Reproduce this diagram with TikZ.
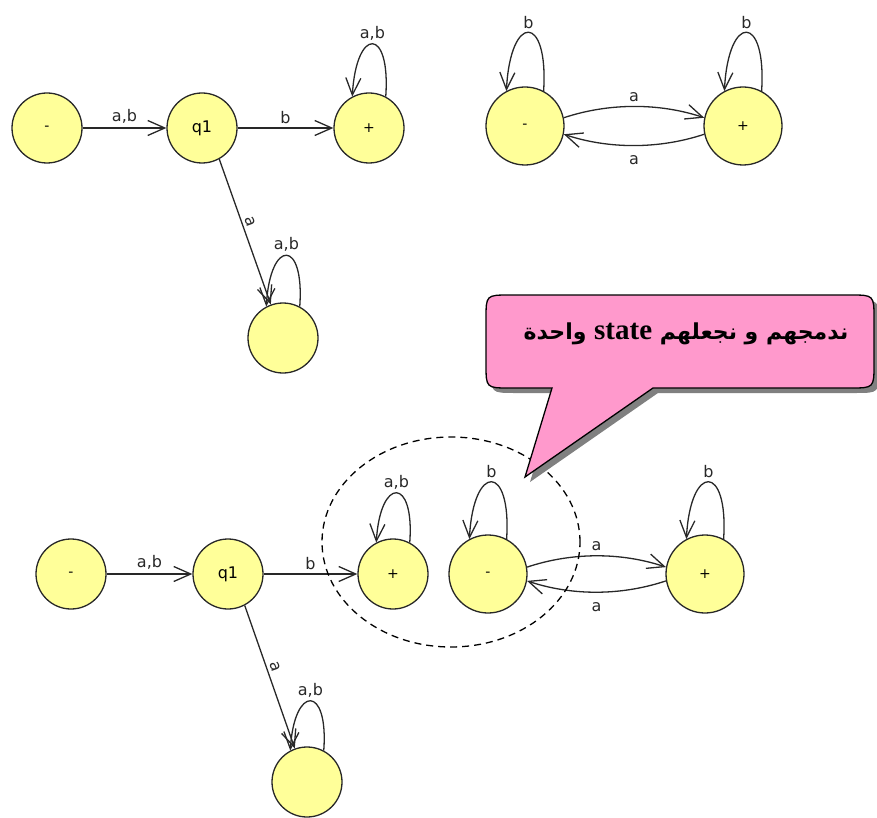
\documentclass[tikz,border=0pt]{standalone}
\usepackage{fontspec}
\setmainfont{DejaVu Sans}
\newfontfamily\arabicfont[Script=Arabic]{DejaVu Sans}
\newfontfamily\timesfont{Liberation Serif}
\TeXXeTstate=1
\usetikzlibrary{arrows.meta,shapes.geometric}
\definecolor{statefill}{RGB}{255,255,153}
\definecolor{calloutpink}{RGB}{255,153,204}
\definecolor{edgegray}{RGB}{40,40,40}
\tikzset{
  st/.style={circle, draw=edgegray, line width=1.3pt, fill=statefill, minimum size=70pt, inner sep=0pt, font=\fontsize{14}{16}\selectfont},
  stbig/.style={st, minimum size=78pt},
  tr/.style={draw=edgegray, line width=1.3pt, -{Straight Barb[length=17pt,width=15pt,line width=1.3pt]}},
  lbl/.style={font=\fontsize{16}{18}\selectfont, inner sep=1.5pt, text=edgegray},
}
\begin{document}
\begin{tikzpicture}[x=1pt,y=-1pt]
\useasboundingbox (0,0) rectangle (877,818);
% ---------- top-left automaton ----------
\node[st] (m1) at (47,128) {-};
\node[st, font=\fontsize{16}{18}\selectfont] (q1) at (202,128) {q1};
\node[st] (p1) at (369,128) {+};
\node[st] (d1) at (283,338) {};
\draw[tr] (m1) -- node[lbl, above=2pt] {a,b} (q1);
\draw[tr] (q1) -- node[lbl, above=2pt] {b} (p1);
\draw[tr] (q1.-61) -- node[lbl, sloped, above=2pt, pos=0.45] {a} (d1.110);
\draw[tr] (p1.62) .. controls +(5,-70) and +(4,-70) .. node[lbl, above=2pt] {a,b} (p1.118);
\draw[tr] (d1.62) .. controls +(5,-68) and +(4,-68) .. node[lbl, above=2pt] {a,b} (d1.118);
% ---------- top-right automaton ----------
\node[stbig] (m2) at (525,126) {-};
\node[stbig] (p2) at (743,126) {+};
\draw[tr] (m2.12) .. controls +(45,-15) and +(-45,-15) .. node[lbl, above=3pt] {a} (p2.168);
\draw[tr] (p2.-168) .. controls +(-45,15) and +(45,15) .. node[lbl, below=8pt] {a} (m2.-12);
\draw[tr] (m2.62) .. controls +(5,-78) and +(4,-78) .. node[lbl, above=2pt] {b} (m2.118);
\draw[tr] (p2.62) .. controls +(5,-78) and +(4,-78) .. node[lbl, above=2pt] {b} (p2.118);
% ---------- bottom automaton ----------
\node[st] (m3) at (71,574) {-};
\node[st, font=\fontsize{16}{18}\selectfont] (q3) at (228,574) {q1};
\node[st] (p3) at (393,574) {+};
\node[st] (d3) at (307,782) {};
\node[stbig] (m4) at (488,574) {-};
\node[stbig] (p4) at (705,574) {+};
\draw[tr] (m3) -- node[lbl, above=2pt] {a,b} (q3);
\draw[tr] (q3) -- node[lbl, above=2pt] {b} (p3);
\draw[tr] (q3.-62) -- node[lbl, sloped, above=2pt, pos=0.45] {a} (d3.110);
\draw[tr] (p3.62) .. controls +(5,-66) and +(4,-66) .. node[lbl, above=2pt] {a,b} (p3.118);
\draw[tr] (d3.62) .. controls +(5,-66) and +(4,-66) .. node[lbl, above=2pt] {a,b} (d3.118);
\draw[tr] (m4.10) .. controls +(45,-15) and +(-45,-15) .. node[lbl, above=3pt] {a} (p4.170);
\draw[tr] (p4.-170) .. controls +(-45,15) and +(45,15) .. node[lbl, below=8pt] {a} (m4.-10);
\draw[tr] (m4.62) .. controls +(5,-76) and +(4,-76) .. node[lbl, above=2pt] {b} (m4.118);
\draw[tr] (p4.62) .. controls +(5,-76) and +(4,-76) .. node[lbl, above=2pt] {b} (p4.118);
% ---------- dashed grouping ----------
\node[draw=black, dashed, dash pattern=on 7pt off 5pt, line width=1.3pt, ellipse, minimum width=258pt, minimum height=210pt, inner sep=0pt] (grp) at (451,542) {};
% ---------- callout ----------
\def\mycallout{(552,388) -- (525,477) -- (653,388) -- (850,388) .. controls (874,388) .. (874,364) -- (874,319) .. controls (874,295) .. (850,295) -- (510,295) .. controls (486,295) .. (486,319) -- (486,364) .. controls (486,388) .. (510,388) -- cycle}
\fill[black!50, xshift=5pt, yshift=-5pt] \mycallout;
\draw[fill=calloutpink, line width=1.3pt] \mycallout;
\node[inner sep=0pt, font=\fontsize{22}{26}\selectfont] (txt) at (686,334) {\arabicfont\bfseries\beginR ندمجهم و نجعلهم \beginL{\timesfont\bfseries\fontsize{29}{30}\selectfont state}\endL{} واحدة\endR};
\end{tikzpicture}
\end{document}
